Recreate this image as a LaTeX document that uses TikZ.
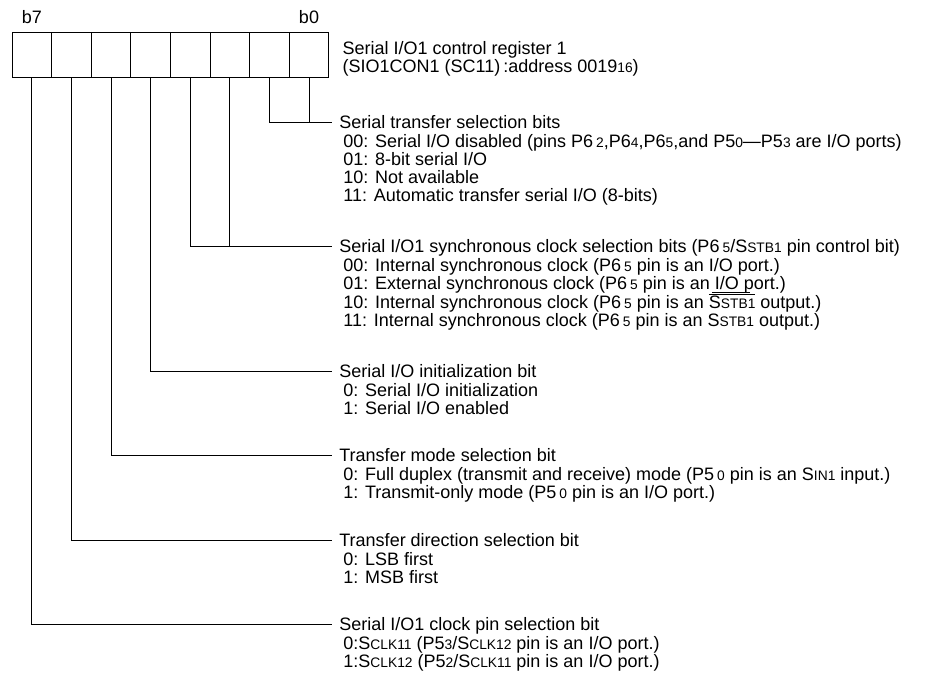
\documentclass[tikz,border=0pt]{standalone}
\usepackage{fontspec}
\setmainfont{Liberation Sans}
\usetikzlibrary{positioning}
\newcommand\sm[1]{{\fontsize{13.8}{18}\selectfont #1}}
\newcommand\firststrut{\rule{0pt}{14pt}}
\newcommand\ovl[1]{\setbox0\hbox{#1}\rlap{\rule[14pt]{\wd0}{.7pt}}\box0\relax}
\newcommand\stray{\rlap{\hspace{2pt}\rule[-3pt]{38pt}{.7pt}}}
\tikzset{
cell/.style={draw, minimum width=39.6pt, minimum height=45pt, inner sep=0pt},
head/.style={anchor=west, inner xsep=7pt, inner ysep=0pt, text height=12.9pt, text depth=0pt},
opts/.style={anchor=north west, align=left, inner sep=0pt},
title/.style={align=left, inner sep=0pt}
}
\begin{document}
\begin{tikzpicture}[x=1pt,y=-1pt,line width=.8pt,font=\fontsize{18}{18}\selectfont]
\useasboundingbox (0,0) rectangle (926,678);
\foreach \b in {0,...,7}
\node[cell] (c\b) at ({12+39.6*(7.5-\b)},54.5) {};
\node[above=8pt of c7, inner sep=0pt] (b7) {b7};
\node[above=8pt of c0, inner sep=0pt] (b0) {b0};
\node[title, right=13pt of c0, yshift=-4pt] (reg) {Serial I/O1 control register 1\\(SIO1CON1 (SC11)\,:address 0019\sm{16})};
\node[head] (sel) at (332,122) {Serial transfer selection bits};
\node[opts] (selv) at ([xshift=11pt,yshift=-4pt]sel.south west) {\firststrut00: Serial I/O disabled (pins P6\,\sm{2},P6\sm{4},P6\sm{5},and P5\sm{0}---P5\sm{3} are I/O ports)\\01: 8-bit serial I/O\\10: Not available\\11: Automatic transfer serial I/O (8-bits)};
\node[head] (clk) at (332,246) {Serial I/O1 synchronous clock selection bits (P6\,\sm{5}/S\sm{STB1} pin control bit)};
\node[opts] (clkv) at ([xshift=11pt,yshift=-4pt]clk.south west) {\firststrut00: Internal synchronous clock (P6\,\sm{5} pin is an I/O port.)\\01: External synchronous clock (P6\,\sm{5} pin is an\stray{} I/O port.)\\10: Internal synchronous clock (P6\,\sm{5} pin is an \ovl{S\sm{STB1}} output.)\\11: Internal synchronous clock (P6\,\sm{5} pin is an S\sm{STB1} output.)};
\node[head] (init) at (332,371.5) {Serial I/O initialization bit};
\node[opts] (initv) at ([xshift=11pt,yshift=-4pt]init.south west) {\firststrut0: Serial I/O initialization\\1: Serial I/O enabled};
\node[head] (mode) at (332,455.5) {Transfer mode selection bit};
\node[opts] (modev) at ([xshift=11pt,yshift=-4pt]mode.south west) {\firststrut0: Full duplex (transmit and receive) mode (P5\,\sm{0} pin is an S\sm{IN1} input.)\\1: Transmit-only mode (P5\,\sm{0} pin is an I/O port.)};
\node[head] (dir) at (332,540.5) {Transfer direction selection bit};
\node[opts] (dirv) at ([xshift=11pt,yshift=-4pt]dir.south west) {\firststrut0: LSB first\\1: MSB first};
\node[head] (pin) at (332,624) {Serial I/O1 clock pin selection bit};
\node[opts] (pinv) at ([xshift=11pt,yshift=-4pt]pin.south west) {\firststrut0:S\sm{CLK11} (P5\sm{3}/S\sm{CLK12} pin is an I/O port.)\\1:S\sm{CLK12} (P5\sm{2}/S\sm{CLK11} pin is an I/O port.)};
\draw (c1.south) |- (sel.west);
\draw (c0.south) -- (c0.south |- sel.west);
\draw (c3.south) |- (clk.west);
\draw (c2.south) -- (c2.south |- clk.west);
\draw (c4.south) |- (init.west);
\draw (c5.south) |- (mode.west);
\draw (c6.south) |- (dir.west);
\draw (c7.south) |- (pin.west);
\end{tikzpicture}
\end{document}
